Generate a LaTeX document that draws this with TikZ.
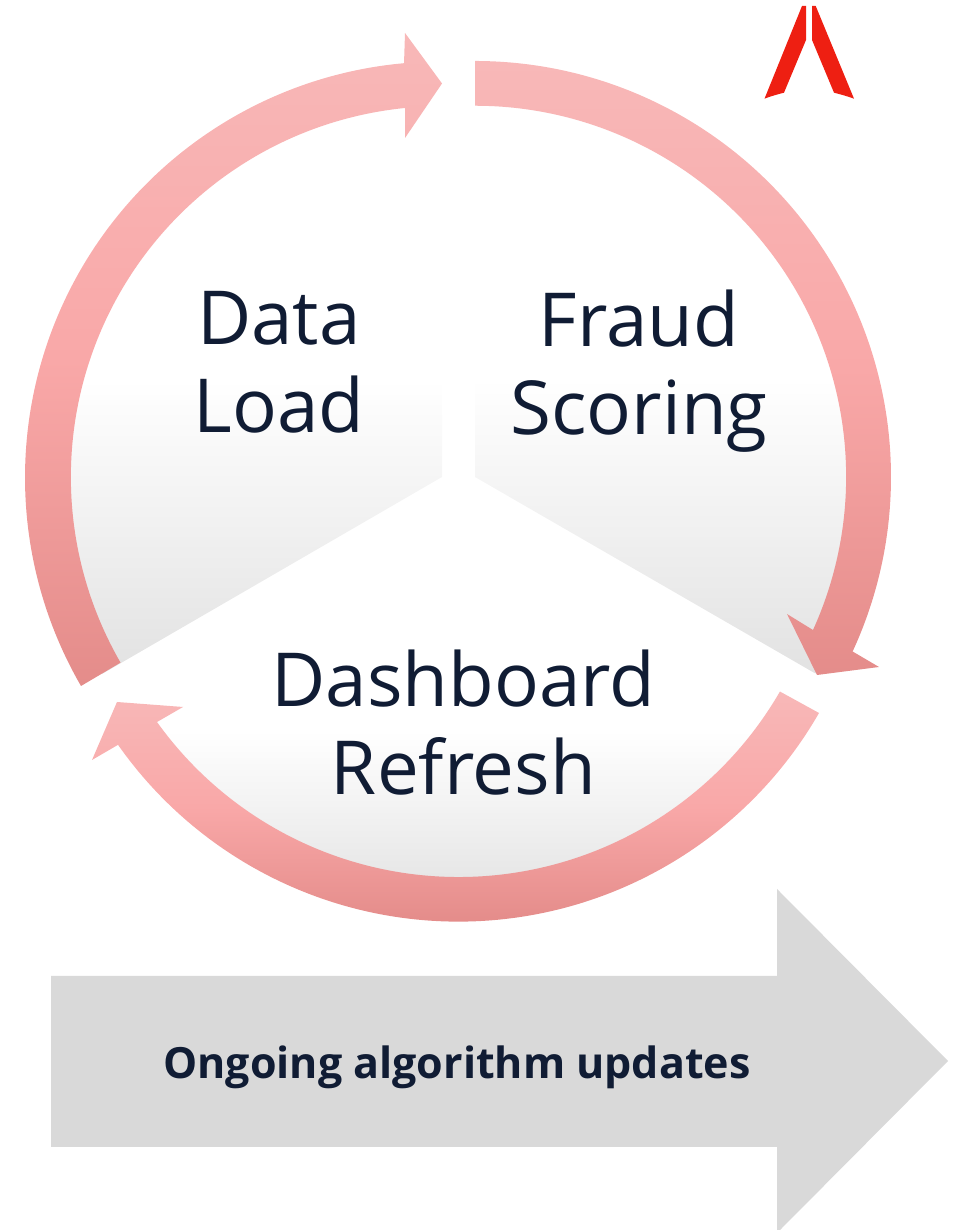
\documentclass[tikz,border=0pt]{standalone}
\usepackage{fontspec}
\setmainfont{Open Sans}
\usetikzlibrary{shadings}
\definecolor{ink}{HTML}{101C34}
\definecolor{arcA}{HTML}{F8B8B8}
\definecolor{arcB}{HTML}{F9A8A8}
\definecolor{arcC}{HTML}{E48C8A}
\definecolor{wedgeC}{HTML}{E2E2E2}
\definecolor{wedgeD}{HTML}{DADADA}
\definecolor{logored}{HTML}{EE1F12}
\definecolor{bargrey}{HTML}{D9D9D9}
\pgfdeclareverticalshading{arcgrad}{100bp}{color(0bp)=(arcC); color(25bp)=(arcC); color(50bp)=(arcB); color(75bp)=(arcA); color(100bp)=(arcA)}
\pgfdeclareverticalshading{wedgegrad}{100bp}{color(0bp)=(wedgeC); color(25bp)=(wedgeC); color(50bp)=(white); color(75bp)=(white); color(100bp)=(white)}
\pgfdeclareverticalshading{wedgegradlow}{100bp}{color(0bp)=(wedgeD); color(25bp)=(wedgeD); color(50bp)=(white); color(75bp)=(white); color(100bp)=(white)}
\tikzset{
  band/.style={shading=arcgrad,draw=none},
  wedgefill/.style={shading=wedgegrad,draw=none},
  wedgefilllow/.style={shading=wedgegradlow,draw=none},
  biglabel/.style={text=ink,align=center,font=\fontsize{74.5}{88}\selectfont},
  barlabel/.style={text=ink,font=\fontsize{43}{50}\selectfont\bfseries},
  logopart/.style={fill=logored,draw=none},
  bar/.style={fill=bargrey,draw=none}
}
\begin{document}
\begin{tikzpicture}[x=1pt,y=1pt]
\useasboundingbox (0,0) rectangle (964,1230);
% wedges
\path[wedgefill] (475,753) -- (475,1146) arc[start angle=90,end angle=-30,radius=393] -- cycle;
\path[wedgefill] (442,753) -- (102,556) arc[start angle=210,end angle=90,radius=393] -- cycle;
\path[wedgefilllow] (458.5,724) -- (798.8,527.5) arc[start angle=-30,end angle=-150,radius=393] -- cycle;
% bands
\path[band] (475,1169) arc[start angle=90,end angle=-24.8,radius=416] -- (879,563) -- (817,555) -- (787,616) -- (813,600) arc[start angle=-24.4,end angle=90,radius=371] -- cycle;
\path[band] (81,544) arc[start angle=210.07,end angle=95.1,radius=416] -- (405,1197) -- (442,1146.5) -- (405,1092) -- (405,1122) arc[start angle=95.7,end angle=210,radius=371] -- cycle;
\path[band] (819,517) arc[start angle=-29.9,end angle=-144.9,radius=416] -- (92,470) -- (117,528) -- (183,523) -- (157,508) arc[start angle=-144.4,end angle=-30,radius=371] -- cycle;
% labels
\node[biglabel] (data) at (279,868) {Data\\Load};
\node[biglabel] (fraud) at (639,859) {Fraud\\Scoring};
\node[biglabel] (dash) at (463.5,507) {Dashboard\\Refresh};
% bar
\path[bar] (51,254) -- (777,254) -- (777,341) -- (948,169) -- (780,0) -- (777,0) -- (777,83) -- (51,83) -- cycle;
\node[barlabel] (updates) at (457,163) {Ongoing algorithm updates};
% logo
\path[logopart] (802,1224) -- (806,1224) -- (806,1190) -- (784,1137.3) .. controls (777,1135.5) and (770,1133.5) .. (764.5,1131.3) -- cycle;
\path[logopart] (812,1224) -- (815.7,1224) -- (854,1131.3) .. controls (848,1133.5) and (841,1135.5) .. (834,1137.3) -- (812,1190) -- cycle;
\end{tikzpicture}
\end{document}
